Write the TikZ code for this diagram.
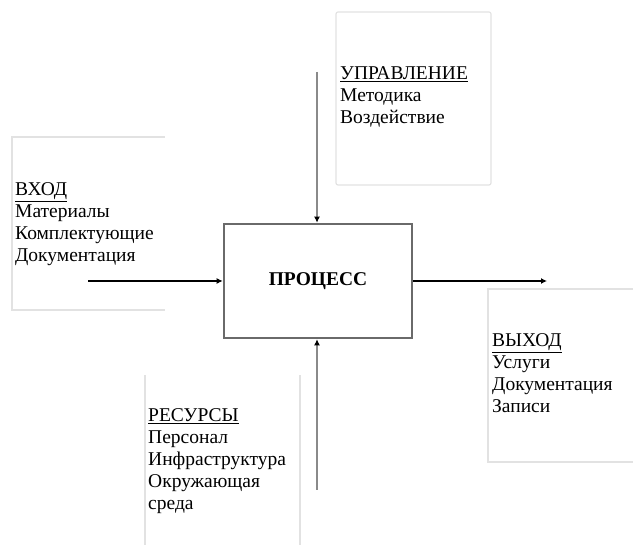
\documentclass[tikz,border=0pt]{standalone}
\usepackage{fontspec}
\setmainfont{Liberation Serif}
\usetikzlibrary{arrows.meta}
\definecolor{framegray}{HTML}{E2E2E2}
\definecolor{boxgray}{HTML}{6A6A6A}
\definecolor{linegray}{HTML}{8A8A8A}
\tikzset{
  frameline/.style={draw=framegray, line width=1.2pt},
  procbox/.style={draw=boxgray, line width=2.6pt, fill=white, minimum width=188pt, minimum height=114pt, inner sep=0pt, font=\fontsize{19.5}{22}\selectfont\bfseries},
  txt/.style={anchor=base west, inner sep=0pt, align=left, font=\fontsize{19.5}{22}\selectfont},
  blackarrow/.style={draw=black, line width=1.3pt, -{Latex[length=6pt,width=6pt]}},
  grayarrow/.style={draw=linegray, line width=2.4pt, -{Latex[length=6pt,width=6pt,color=black]}},
}
\begin{document}
\begin{tikzpicture}[x=1pt,y=-1pt]
\useasboundingbox (0,0) rectangle (633,545);
% faint frames
\draw[frameline] (165,137) -- (12,137) -- (12,310) -- (165,310);
\draw[frameline, rounded corners=2pt] (336,12) rectangle (491,185);
\draw[frameline] (145,375) -- (145,545);
\draw[frameline] (300,375) -- (300,545);
\draw[frameline] (633,289) -- (488,289) -- (488,462) -- (633,462);
% process
\node[procbox] (proc) at (318,281) {ПРОЦЕСС};
% texts (anchor = baseline of last line)
\node[txt] (in) at (15,262) {\underline{ВХОД}\\Материалы\\Комплектующие\\Документация};
\node[txt] (ctl) at (340,124) {\underline{УПРАВЛЕНИЕ}\\Методика\\Воздействие};
\node[txt] (res) at (148,510) {\underline{РЕСУРСЫ}\\Персонал\\Инфраструктура\\Окружающая\\среда};
\node[txt] (out) at (492,413) {\underline{ВЫХОД}\\Услуги\\Документация\\Записи};
% connector ends
\coordinate (inS) at (88,281);
\coordinate (outE) at (547,281);
\coordinate (ctlS) at (317,72);
\coordinate (resS) at (317,490);
\draw[blackarrow] (inS) -- (proc.west);
\draw[blackarrow] (proc.east) -- (outE);
\draw[grayarrow] (ctlS) -- (ctlS |- proc.north);
\draw[grayarrow] (resS) -- (resS |- proc.south);
\end{tikzpicture}
\end{document}
